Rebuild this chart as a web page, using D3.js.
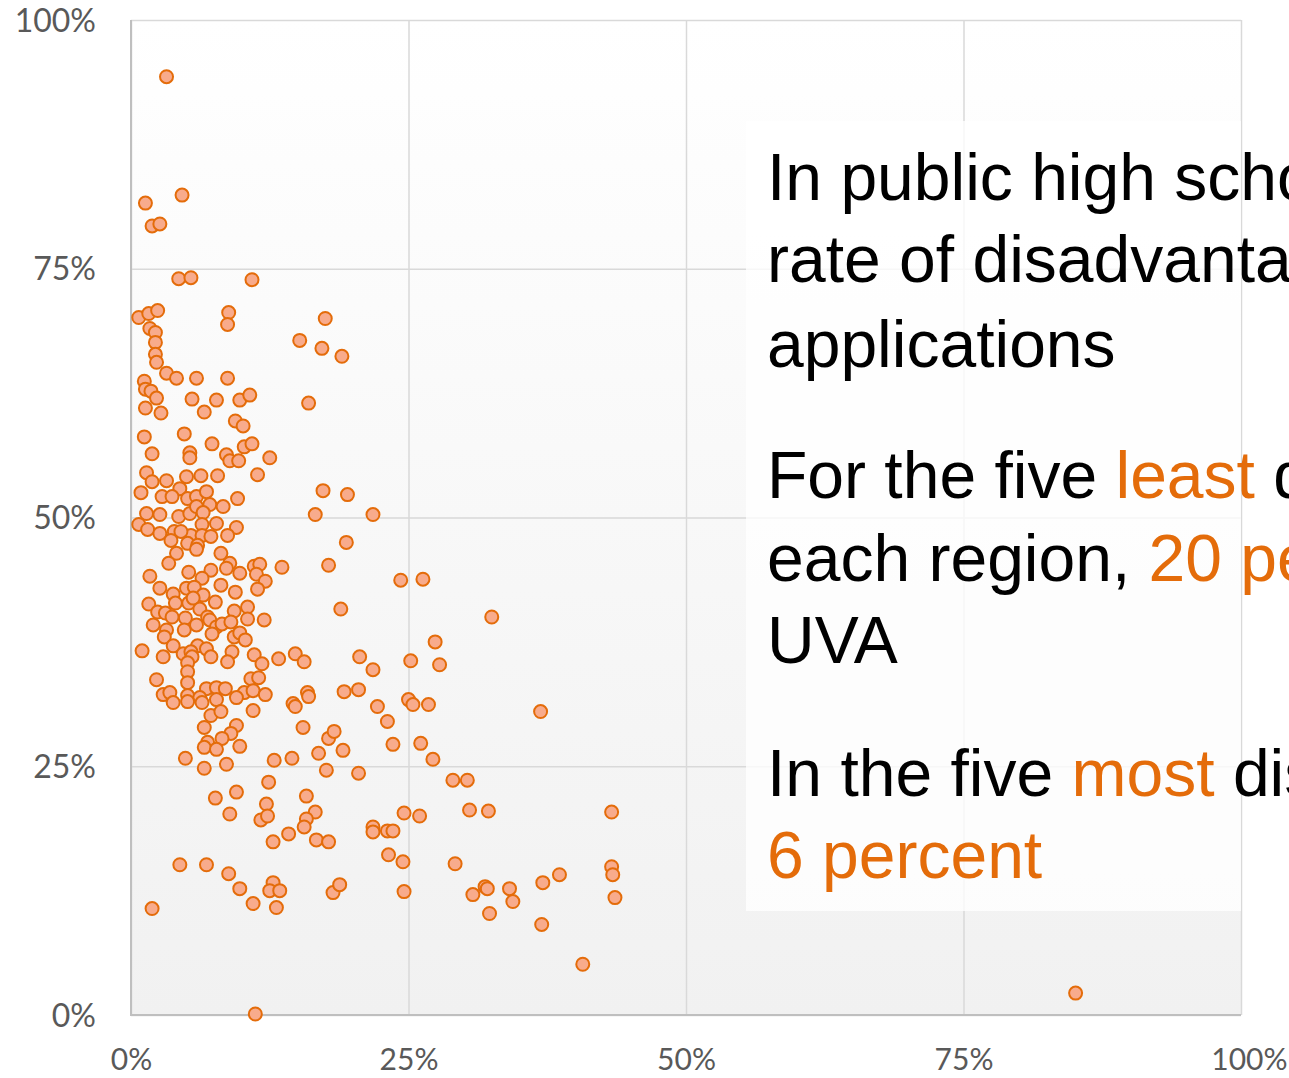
<!DOCTYPE html>
<html>
<head>
<meta charset="utf-8">
<script src="https://cdn.jsdelivr.net/npm/d3@7"></script>
<style>
  html, body { margin: 0; padding: 0; background: #ffffff; }
  svg { display: block; }
</style>
</head>
<body>
<svg id="chart" width="1289" height="1078"></svg>
<script>
// ---- Data (percent values) ----
const xTickValues = [0, 25, 50, 75, 100];
const yTickValues = [0, 25, 50, 75, 100];
const tickLabels = ["0%", "25%", "50%", "75%", "100%"];

// [share of disadvantaged students (%), rate (%)]
const schools = [
  [3.2,94.3],[4.6,82.4],[1.3,81.6],[1.9,79.3],[2.6,79.5],[4.3,74.0],[5.4,74.1],[10.9,73.9],
  [0.7,70.1],[1.6,70.5],[2.4,70.8],[1.7,69.0],[2.2,68.6],[2.2,67.6],[2.2,66.4],[2.3,65.6],
  [8.8,70.6],[8.7,69.4],[15.2,67.8],[3.2,64.5],[4.1,64.0],[5.9,64.0],[8.7,64.0],[1.2,63.7],
  [1.3,62.9],[1.8,62.7],[2.3,62.0],[5.5,61.9],[7.7,61.8],[9.8,61.8],[10.7,62.3],[16.0,61.5],
  [1.3,61.0],[2.7,60.5],[6.6,60.6],[9.4,59.7],[10.1,59.2],[1.2,58.1],[4.8,58.4],[7.3,57.4],
  [10.2,57.1],[10.9,57.4],[1.9,56.4],[5.3,56.5],[5.3,56.0],[8.6,56.3],[8.9,55.7],[9.7,55.7],
  [12.5,56.0],[1.4,54.5],[1.9,53.6],[3.2,53.7],[5.0,54.1],[6.3,54.2],[7.8,54.2],[11.4,54.3],
  [4.4,52.9],[0.9,52.5],[2.8,52.1],[3.7,52.1],[5.1,51.9],[5.9,52.1],[6.8,52.6],[9.6,51.9],
  [17.5,70.0],[17.2,67.0],[19.0,66.2],[17.3,52.7],[19.5,52.3],[16.6,50.3],[21.8,50.3],[19.4,47.5],
  [17.8,45.2],[24.3,43.7],[26.3,43.8],[18.9,40.8],[32.5,40.0],
  [1.4,50.4],[2.6,50.3],[0.7,49.3],[1.5,48.8],[2.6,48.4],[3.9,48.6],[4.3,50.1],[5.3,50.4],
  [5.9,51.1],[7.1,51.3],[8.3,51.1],[6.5,50.5],[6.4,49.3],[7.7,49.4],[9.5,49.0],[8.7,48.2],
  [5.4,48.2],[6.4,48.2],[7.2,48.1],[4.5,48.6],[3.6,47.7],[5.1,47.4],[6.0,47.2],[5.9,46.8],
  [4.1,46.4],[8.1,46.4],[3.4,45.4],[8.9,45.4],[8.6,44.9],[11.1,45.1],[11.6,45.3],[13.6,45.0],
  [1.7,44.1],[5.2,44.5],[7.2,44.7],[9.8,44.4],[11.3,44.3],[6.4,43.9],[12.1,43.6],[8.1,43.2],
  [11.4,42.8],[2.6,42.9],[5.0,42.9],[5.7,43.0],[9.4,42.5],[3.8,42.3],[6.5,42.2],[1.6,41.3],
  [4.0,41.4],[5.2,41.4],[7.6,41.5],[5.6,41.9],[10.5,41.0],[2.4,40.5],[3.1,40.4],[3.7,40.0],
  [4.9,39.9],[6.2,40.8],[6.9,40.0],[9.3,40.6],[10.5,39.8],[12.0,39.7],[2.0,39.2],[4.8,38.7],
  [5.9,39.2],[7.1,39.7],[7.7,39.0],[8.2,39.3],[9.0,39.5],[7.3,38.3],[3.2,38.7],[3.0,38.0],
  [9.3,38.0],[9.8,38.4],[10.3,37.7],[1.0,36.6],[3.8,37.1],[4.7,36.3],[6.0,37.1],[6.8,36.8],
  [7.2,36.0],[5.4,36.5],[5.5,36.0],[9.1,36.5],[8.7,35.5],[11.1,36.2],[11.8,35.3],[13.3,35.8],
  [14.8,36.3],[15.6,35.5],[2.9,36.0],[5.1,35.4],[5.1,34.5],[2.3,33.7],[5.1,33.4],[10.8,33.8],
  [11.5,33.9],[2.9,32.2],[3.5,32.4],[5.1,32.1],[6.8,32.8],[7.7,32.9],[8.5,32.8],[10.2,32.4],
  [11.0,32.6],[12.1,32.2],[15.9,32.4],[16.0,32.0],[14.6,31.3],[9.5,31.9],[6.2,31.9],
  [20.6,36.0],[21.8,34.7],[25.2,35.6],[27.4,37.5],[27.8,35.2],[11.0,30.6],[14.8,31.0],[19.2,32.5],
  [20.5,32.7],[22.2,31.0],[25.0,31.7],[25.4,31.2],[26.8,31.2],[23.1,29.5],[23.6,27.2],[26.1,27.3],
  [27.2,25.7],[36.9,30.5],[15.5,28.9],[17.8,27.8],[18.3,28.5],[19.1,26.6],[16.9,26.3],[17.6,24.6],
  [20.5,24.3],[14.5,25.8],[12.9,25.6],[12.4,23.4],[12.2,21.2],[11.7,19.6],[12.3,20.0],[15.8,22.0],
  [16.6,20.4],[15.8,19.7],[15.6,18.9],[14.2,18.2],[12.8,17.4],[16.7,17.6],[17.8,17.4],[21.8,18.9],
  [21.8,18.4],[23.1,18.5],[23.6,18.5],[24.6,20.3],[26.0,20.0],[23.2,16.1],[24.5,15.4],[29.0,23.6],
  [30.3,23.6],[30.5,20.6],[32.2,20.5],[29.2,15.2],[24.6,12.4],[18.2,12.3],[18.8,13.1],[12.8,13.3],
  [12.5,12.5],[13.4,12.5],[11.0,11.2],[13.1,10.8],[30.8,12.1],[31.9,12.9],[32.1,12.7],[34.1,12.7],
  [34.4,11.4],[37.1,13.3],[32.3,10.2],[37.0,9.1],
  [3.8,31.4],[5.1,31.5],[6.4,31.4],[7.7,31.7],[7.2,30.1],[8.1,30.5],[6.6,28.9],[9.5,29.1],
  [9.0,28.3],[8.2,27.8],[6.9,27.4],[6.6,26.9],[7.7,26.7],[9.8,27.0],[4.9,25.8],[6.6,24.8],
  [8.6,25.2],[7.6,21.8],[9.5,22.4],[8.9,20.2],[4.4,15.1],[6.8,15.1],[8.8,14.2],[9.8,12.7],
  [1.9,10.7],[11.2,0.1],
  [43.3,20.4],[38.6,14.1],[43.3,14.9],[43.4,14.1],[43.6,11.8],[40.7,5.1],[85.1,2.2]
];

// Annotation text: each line is a list of [text, highlighted?]
const noteParagraphs = [
  [
    [["In public high schools,", false]],
    [["rate of disadvantaged", false]],
    [["applications", false]]
  ],
  [
    [["For the five ", false], ["least", true], [" disadvantaged", false]],
    [["each region, ", false], ["20 percent", true]],
    [["UVA", false]]
  ],
  [
    [["In the five ", false], ["most", true], [" disadvantaged", false]],
    [["6 percent", true]]
  ]
];

// ---- Layout ----
const W = 1289, H = 1078;
const plot = { left: 131, right: 1241, top: 20, bottom: 1015 };
const orange = "#E46C0A";

const svg = d3.select("#chart");

const x = d3.scaleLinear().domain([0, 100]).range([plot.left, plot.right]);
const y = d3.scaleLinear().domain([0, 100]).range([plot.bottom, plot.top]);

// Background gradient
const defs = svg.append("defs");
const grad = defs.append("linearGradient")
  .attr("id", "bg").attr("x1", 0).attr("y1", 0).attr("x2", 0).attr("y2", 1);
grad.append("stop").attr("offset", "0%").attr("stop-color", "#ffffff");
grad.append("stop").attr("offset", "100%").attr("stop-color", "#f1f1f1");

svg.append("rect")
  .attr("x", plot.left).attr("y", plot.top)
  .attr("width", plot.right - plot.left).attr("height", plot.bottom - plot.top)
  .attr("fill", "url(#bg)");

// Gridlines
const gridX = svg.append("g")
  .attr("transform", `translate(0,${plot.bottom})`)
  .call(d3.axisBottom(x).tickValues(xTickValues).tickSize(-(plot.bottom - plot.top)).tickFormat(""));
gridX.select(".domain").remove();
gridX.selectAll("line").attr("stroke", "#d9d9d9").attr("stroke-width", 1.5);

const gridY = svg.append("g")
  .attr("transform", `translate(${plot.left},0)`)
  .call(d3.axisLeft(y).tickValues(yTickValues).tickSize(-(plot.right - plot.left)).tickFormat(""));
gridY.select(".domain").remove();
gridY.selectAll("line").attr("stroke", "#d9d9d9").attr("stroke-width", 1.5);

// Axis lines
svg.append("line")
  .attr("x1", plot.left).attr("x2", plot.left)
  .attr("y1", plot.top).attr("y2", plot.bottom)
  .attr("stroke", "#bfbfbf").attr("stroke-width", 2);
svg.append("line")
  .attr("x1", plot.left - 1).attr("x2", plot.right)
  .attr("y1", plot.bottom).attr("y2", plot.bottom)
  .attr("stroke", "#bfbfbf").attr("stroke-width", 2);

// Tick labels
const xAxis = svg.append("g")
  .attr("transform", `translate(0,${plot.bottom})`)
  .call(d3.axisBottom(x).tickValues(xTickValues).tickSize(0)
    .tickFormat((d, i) => tickLabels[i]));
xAxis.select(".domain").remove();
const lastX = xTickValues.length - 1;
xAxis.selectAll("text")
  .attr("y", 55).attr("dy", 0)
  .attr("font-family", "Lato, 'Open Sans', sans-serif")
  .attr("font-size", 30)
  .attr("fill", "#595959")
  .attr("text-anchor", (d, i) => i === lastX ? "end" : "middle")
  .attr("dx", (d, i) => i === lastX ? (W - 2 - plot.right) : 0);

const yAxis = svg.append("g")
  .attr("transform", `translate(${plot.left},0)`)
  .call(d3.axisLeft(y).tickValues(yTickValues).tickSize(0)
    .tickFormat((d, i) => tickLabels[i]));
yAxis.select(".domain").remove();
yAxis.selectAll("text")
  .attr("x", -35).attr("dy", 11)
  .attr("font-family", "Lato, 'Open Sans', sans-serif")
  .attr("font-size", 32)
  .attr("fill", "#595959");

// Points
svg.append("g")
  .selectAll("circle")
  .data(schools)
  .join("circle")
  .attr("cx", d => x(d[0]))
  .attr("cy", d => y(d[1]))
  .attr("r", 6.5)
  .attr("fill", "#F8AB8C")
  .attr("stroke", orange)
  .attr("stroke-width", 2);

// Annotation box
svg.append("rect")
  .attr("x", 746).attr("y", 121)
  .attr("width", plot.right - 746).attr("height", 790)
  .attr("fill", "#ffffff").attr("fill-opacity", 0.78);

const baselines = [[200, 282, 367], [498, 581, 663], [796, 878]];
const note = svg.append("g")
  .attr("font-family", "'Liberation Sans', Arial, sans-serif")
  .attr("font-size", 66);

noteParagraphs.forEach((para, pi) => {
  para.forEach((line, li) => {
    const t = note.append("text")
      .attr("x", 767)
      .attr("y", baselines[pi][li])
      .attr("fill", "#000000");
    line.forEach(([str, hi]) => {
      t.append("tspan").text(str).attr("fill", hi ? orange : "#000000");
    });
  });
});
</script>
</body>
</html>
